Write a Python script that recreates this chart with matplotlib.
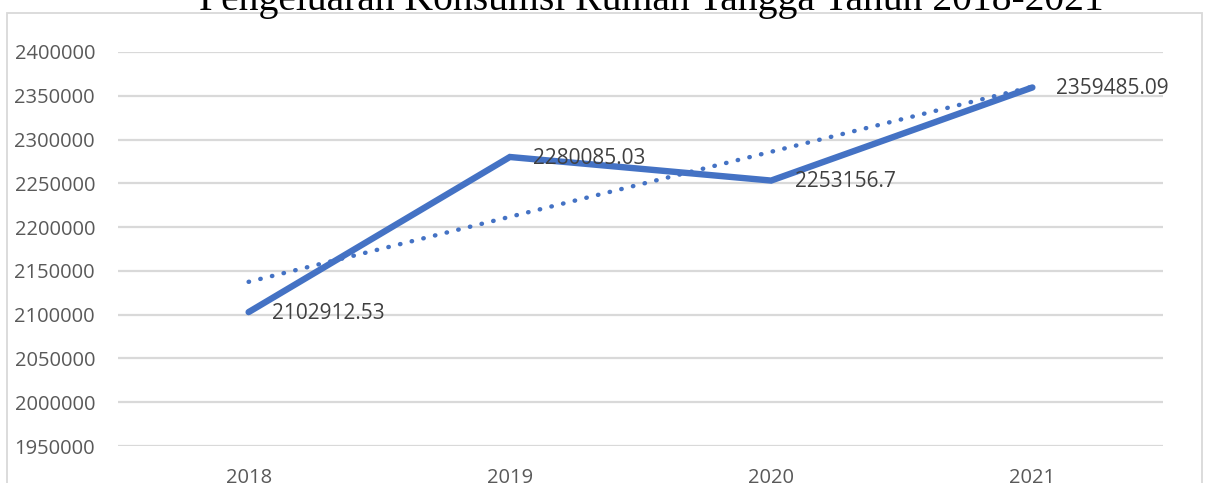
import matplotlib
matplotlib.use("Agg")
import matplotlib.pyplot as plt
import numpy as np
from matplotlib.patches import Rectangle

years = ["2018", "2019", "2020", "2021"]
values = [2102912.53, 2280085.03, 2253156.7, 2359485.09]
value_labels = ["2102912.53", "2280085.03", "2253156.7", "2359485.09"]
yticks = [1950000, 2000000, 2050000, 2100000, 2150000, 2200000, 2250000, 2300000, 2350000, 2400000]
title = "Pengeluaran Konsumsi Rumah Tangga Tahun 2018-2021"

W, H = 1206, 483
fig = plt.figure(figsize=(W / 100, H / 100), dpi=100)

# outer chart border
fig.patches.append(Rectangle((7 / W, -0.1), (1202 - 7) / W, 1.1 - 13 / H,
                             transform=fig.transFigure, fill=False,
                             edgecolor="#D9D9D9", linewidth=1.3))

# plot area
left, right = 118, 1163
y_top_px, y_bot_px = 52, 446
ax = fig.add_axes([left / W, 1 - y_bot_px / H, (right - left) / W, (y_bot_px - y_top_px) / H])
ax.set_ylim(1950000, 2400000)
x = np.arange(len(years))
ax.set_xlim(-0.5, len(years) - 0.5)

for s in ax.spines.values():
    s.set_visible(False)
ax.set_yticks(yticks)
ax.set_yticklabels([str(t) for t in yticks], fontfamily="Open Sans", fontsize=14.5, color="#595959")
ax.set_xticks(x)
ax.set_xticklabels(years, fontfamily="Open Sans", fontsize=14.5, color="#595959")
ax.tick_params(axis="both", length=0)
ax.tick_params(axis="y", pad=16.5)
ax.tick_params(axis="x", pad=16)
ax.grid(axis="y", color="#D9D9D9", linewidth=1.6)
ax.set_axisbelow(True)

# trendline (linear fit)
coef = np.polyfit(x, values, 1)
trend = np.polyval(coef, x)
ax.plot(x, trend, linestyle=(0, (0.1, 2.6)), color="#4472C4", linewidth=3.2,
        dash_capstyle="round", zorder=3, clip_on=False)

ax.plot(x, values, color="#4472C4", linewidth=4.6, solid_capstyle="round",
        solid_joinstyle="miter", zorder=4, clip_on=False)

for xi, v, lab in zip(x, values, value_labels):
    ax.annotate(lab, (xi, v), xytext=(17, -1), textcoords="offset points",
                ha="left", va="center", fontfamily="Open Sans", fontsize=15,
                color="#404040", zorder=5)

fig.text(651 / W, 1 - 10 / H, title, ha="center", va="baseline",
         fontfamily="Liberation Serif", fontsize=28.5, color="#000000")

fig.savefig("out.png", dpi=100)
